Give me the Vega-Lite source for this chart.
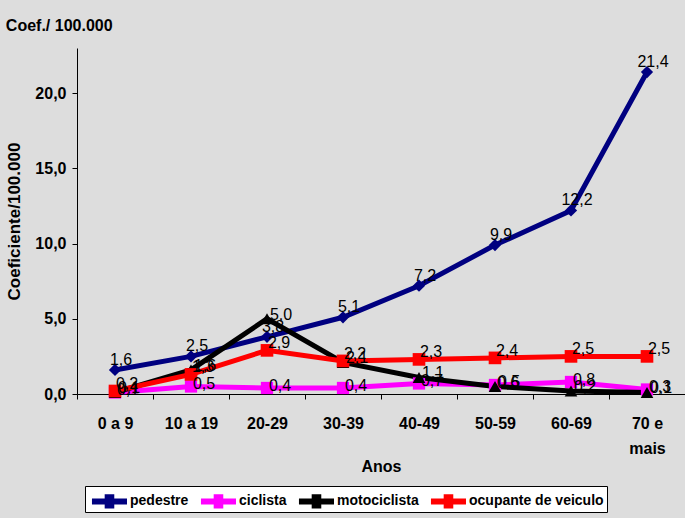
{
  "$schema": "https://vega.github.io/schema/vega-lite/v6.json",
  "width": 608,
  "height": 346,
  "autosize": {"type": "none"},
  "padding": {"left": 77, "top": 48, "right": 0, "bottom": 124},
  "title": {
    "text": "Coef./ 100.000",
    "anchor": "start",
    "frame": "bounds",
    "fontSize": 16,
    "fontWeight": "bold",
    "font": "Liberation Sans",
    "color": "black",
    "offset": 14
  },
  "data": {
    "values": [
      {"idade": "0 a 9", "serie": "pedestre", "valor": 1.6},
      {"idade": "10 a 19", "serie": "pedestre", "valor": 2.5},
      {"idade": "20-29", "serie": "pedestre", "valor": 3.8},
      {"idade": "30-39", "serie": "pedestre", "valor": 5.1},
      {"idade": "40-49", "serie": "pedestre", "valor": 7.2},
      {"idade": "50-59", "serie": "pedestre", "valor": 9.9},
      {"idade": "60-69", "serie": "pedestre", "valor": 12.2},
      {"idade": "70 e mais", "serie": "pedestre", "valor": 21.4},
      {"idade": "0 a 9", "serie": "ciclista", "valor": 0.1},
      {"idade": "10 a 19", "serie": "ciclista", "valor": 0.5},
      {"idade": "20-29", "serie": "ciclista", "valor": 0.4},
      {"idade": "30-39", "serie": "ciclista", "valor": 0.4},
      {"idade": "40-49", "serie": "ciclista", "valor": 0.7},
      {"idade": "50-59", "serie": "ciclista", "valor": 0.6},
      {"idade": "60-69", "serie": "ciclista", "valor": 0.8},
      {"idade": "70 e mais", "serie": "ciclista", "valor": 0.3},
      {"idade": "0 a 9", "serie": "motociclista", "valor": 0.1},
      {"idade": "10 a 19", "serie": "motociclista", "valor": 1.6},
      {"idade": "20-29", "serie": "motociclista", "valor": 5.0},
      {"idade": "30-39", "serie": "motociclista", "valor": 2.1},
      {"idade": "40-49", "serie": "motociclista", "valor": 1.1},
      {"idade": "50-59", "serie": "motociclista", "valor": 0.5},
      {"idade": "60-69", "serie": "motociclista", "valor": 0.2},
      {"idade": "70 e mais", "serie": "motociclista", "valor": 0.1},
      {"idade": "0 a 9", "serie": "ocupante de veiculo", "valor": 0.2},
      {"idade": "10 a 19", "serie": "ocupante de veiculo", "valor": 1.3},
      {"idade": "20-29", "serie": "ocupante de veiculo", "valor": 2.9},
      {"idade": "30-39", "serie": "ocupante de veiculo", "valor": 2.2},
      {"idade": "40-49", "serie": "ocupante de veiculo", "valor": 2.3},
      {"idade": "50-59", "serie": "ocupante de veiculo", "valor": 2.4},
      {"idade": "60-69", "serie": "ocupante de veiculo", "valor": 2.5},
      {"idade": "70 e mais", "serie": "ocupante de veiculo", "valor": 2.5}
    ]
  },
  "encoding": {
    "x": {
      "field": "idade",
      "type": "ordinal",
      "sort": null,
      "bandPosition": 0.5,
      "scale": {"type": "band", "paddingInner": 0, "paddingOuter": 0},
      "axis": {
        "title": "Anos",
        "labelAngle": 0,
        "tickBand": "extent",
        "labelExpr": "datum.label == '70 e mais' ? ['70 e', 'mais'] : datum.label",
        "labelPadding": 16,
        "labelLineHeight": 25,
        "titlePadding": 2
      }
    },
    "y": {
      "field": "valor",
      "type": "quantitative",
      "scale": {"domain": [0, 23], "nice": false},
      "axis": {
        "title": "Coeficiente/100.000",
        "values": [0, 5, 10, 15, 20],
        "format": ".1f",
        "labelPadding": 6,
        "titlePadding": 11,
        "titleFontSize": 17
      }
    }
  },
  "layer": [
    {
      "mark": {"type": "line", "strokeWidth": 5},
      "encoding": {
        "color": {
          "field": "serie",
          "type": "nominal",
          "sort": null,
          "scale": {
            "domain": ["pedestre", "ciclista", "motociclista", "ocupante de veiculo"],
            "range": ["#000080", "#FF00FF", "#000000", "#FF0000"]
          },
          "legend": null
        }
      }
    },
    {
      "transform": [{"filter": "datum.serie == 'pedestre'"}],
      "mark": {"type": "point", "shape": "diamond", "filled": true, "size": 150, "opacity": 1, "color": "#000080"}
    },
    {
      "transform": [{"filter": "datum.serie == 'ciclista'"}],
      "mark": {"type": "point", "shape": "square", "filled": true, "size": 150, "opacity": 1, "color": "#FF00FF"}
    },
    {
      "transform": [{"filter": "datum.serie == 'motociclista'"}],
      "mark": {"type": "point", "shape": "triangle-up", "filled": true, "size": 160, "opacity": 1, "color": "#000000"}
    },
    {
      "transform": [{"filter": "datum.serie == 'ocupante de veiculo'"}],
      "mark": {"type": "point", "shape": "square", "filled": true, "size": 160, "opacity": 1, "color": "#FF0000"}
    },
    {
      "transform": [{"filter": "datum.serie == 'pedestre'"}],
      "mark": {"type": "text", "align": "center", "baseline": "middle", "dx": 6, "dy": -10, "fontSize": 16, "font": "Liberation Sans", "color": "black"},
      "encoding": {"text": {"field": "valor", "type": "quantitative", "format": ".1f"}}
    },
    {
      "transform": [{"filter": "datum.serie == 'ciclista'"}],
      "mark": {"type": "text", "align": "center", "baseline": "middle", "dx": 13, "dy": -2, "fontSize": 16, "font": "Liberation Sans", "color": "black"},
      "encoding": {"text": {"field": "valor", "type": "quantitative", "format": ".1f"}}
    },
    {
      "transform": [{"filter": "datum.serie == 'motociclista'"}],
      "mark": {"type": "text", "align": "center", "baseline": "middle", "dx": 14, "dy": -4, "fontSize": 16, "font": "Liberation Sans", "color": "black"},
      "encoding": {"text": {"field": "valor", "type": "quantitative", "format": ".1f"}}
    },
    {
      "transform": [{"filter": "datum.serie == 'ocupante de veiculo'"}],
      "mark": {"type": "text", "align": "center", "baseline": "middle", "dx": 12, "dy": -7, "fontSize": 16, "font": "Liberation Sans", "color": "black"},
      "encoding": {"text": {"field": "valor", "type": "quantitative", "format": ".1f"}}
    },
    {
      "mark": {"type": "point", "filled": true, "size": 0, "opacity": 1},
      "encoding": {
        "color": {
          "field": "serie",
          "type": "nominal",
          "sort": null,
          "legend": {
            "title": null,
            "orient": "none",
            "legendX": 8,
            "legendY": 438,
            "direction": "horizontal",
            "fillColor": "white",
            "strokeColor": "black",
            "padding": 3,
            "symbolType": "M-0.67,-0.25H2.25V0.25H-0.67Z M0.39,-0.6H1.19V0.6H0.39Z",
            "symbolSize": 576,
            "symbolStrokeWidth": 0,
            "symbolOpacity": 1,
            "columnPadding": 8,
            "labelOffset": 18
          }
        }
      }
    }
  ],
  "resolve": {"legend": {"color": "independent"}},
  "config": {
    "background": "#DDDDDD",
    "view": {"stroke": null},
    "locale": {
      "number": {"decimal": ",", "thousands": ".", "grouping": [3], "currency": ["", ""]}
    },
    "axis": {
      "grid": false,
      "domainColor": "black",
      "tickColor": "black",
      "tickSize": 5,
      "labelFont": "Liberation Sans",
      "labelFontSize": 16,
      "labelFontWeight": "bold",
      "labelColor": "black",
      "titleFont": "Liberation Sans",
      "titleFontSize": 16,
      "titleFontWeight": "bold",
      "titleColor": "black"
    },
    "legend": {
      "labelFont": "Liberation Sans",
      "labelFontSize": 14,
      "labelFontWeight": "bold",
      "labelColor": "black"
    }
  }
}
